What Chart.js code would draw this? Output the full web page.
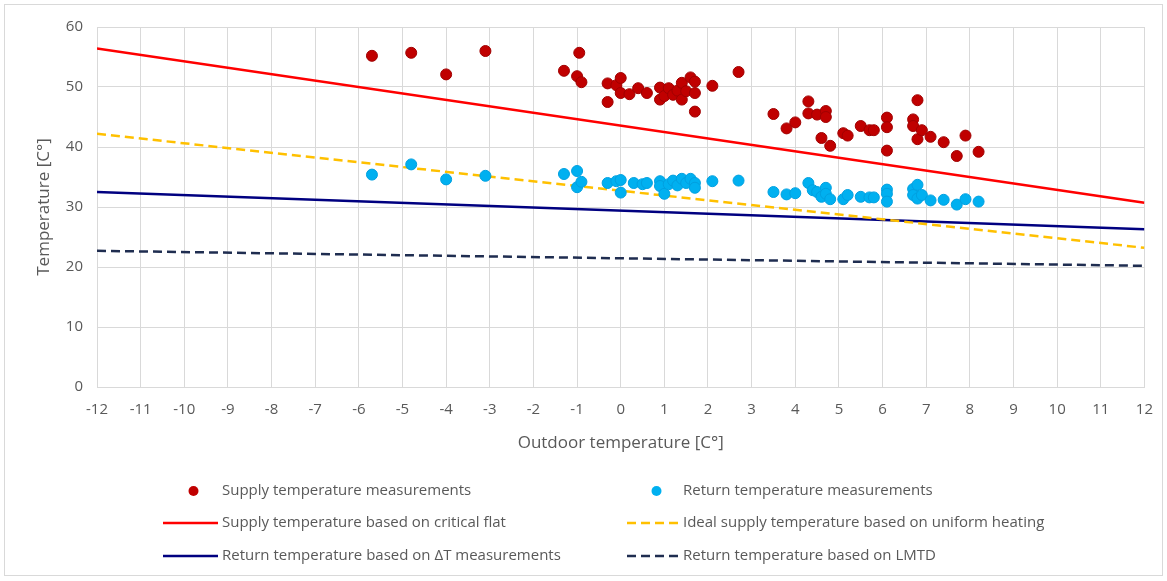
<!DOCTYPE html>
<html>
<head>
<meta charset="utf-8">
<script src="https://cdn.jsdelivr.net/npm/chart.js@4/dist/chart.umd.min.js"></script>
<style>
  html, body { margin: 0; padding: 0; background: #fff; }
  #wrap { position: relative; width: 1167px; height: 581px; }
</style>
</head>
<body>
<div id="wrap"><canvas id="chart" width="1167" height="581"></canvas></div>
<script>
// outdoor temperature / measured temperature pairs
var supplyX = [-5.7, -4.8, -4.0, -3.1, -1.3, -1.0, -0.9, -0.95, -0.3, -0.3, -0.1, 0.0, 0.0, 0.2, 0.4, 0.6, 0.9, 0.9, 1.0, 1.1, 1.2, 1.3, 1.4, 1.4, 1.5, 1.6, 1.7, 1.7, 1.7, 2.1, 2.7,
               3.5, 3.8, 4.0, 4.3, 4.3, 4.5, 4.6, 4.7, 4.7, 4.8, 5.1, 5.2, 5.5, 5.7, 5.8, 6.1, 6.1, 6.1, 6.7, 6.7, 6.8, 6.8, 6.9, 7.1, 7.4, 7.7, 7.9, 8.2];
var supplyY = [55.2, 55.7, 52.1, 56.0, 52.7, 51.8, 50.8, 55.7, 50.6, 47.5, 50.3, 51.5, 49.0, 48.8, 49.8, 49.0, 49.9, 47.9, 48.5, 49.8, 48.7, 49.4, 50.7, 47.9, 49.3, 51.6, 50.9, 49.0, 45.9, 50.2, 52.5,
               45.5, 43.1, 44.1, 47.6, 45.6, 45.4, 41.5, 46.0, 45.0, 40.2, 42.3, 41.9, 43.5, 42.8, 42.8, 44.9, 43.3, 39.4, 44.6, 43.5, 47.8, 41.3, 42.8, 41.7, 40.8, 38.5, 41.9, 39.2];

var returnX = [-5.7, -4.8, -4.0, -3.1, -1.3, -1.0, -1.0, -0.9, -0.3, -0.1, 0.0, 0.0, 0.3, 0.5, 0.6, 0.9, 0.9, 1.0, 1.1, 1.2, 1.3, 1.4, 1.5, 1.6, 1.7, 1.7, 2.1, 2.7,
               3.5, 3.8, 4.0, 4.3, 4.4, 4.5, 4.6, 4.7, 4.7, 4.8, 5.1, 5.2, 5.5, 5.7, 5.8, 6.1, 6.1, 6.1, 6.7, 6.7, 6.8, 6.8, 6.9, 7.1, 7.4, 7.7, 7.9, 8.2];
var returnY = [35.4, 37.1, 34.6, 35.2, 35.5, 36.0, 33.3, 34.2, 34.0, 34.3, 34.5, 32.4, 34.0, 33.8, 34.0, 34.3, 33.5, 32.2, 33.8, 34.4, 33.6, 34.7, 34.0, 34.7, 34.0, 33.2, 34.3, 34.4,
               32.5, 32.1, 32.3, 34.0, 32.8, 32.5, 31.7, 33.2, 32.2, 31.3, 31.3, 32.0, 31.7, 31.6, 31.6, 32.9, 32.2, 30.9, 33.0, 32.0, 33.7, 31.4, 32.0, 31.1, 31.2, 30.4, 31.3, 30.9];

// model lines, evaluated at the ends of the axis
var lineX = [-12, 12];
var criticalFlat = [56.4, 30.7];
var uniformHeating = [42.2, 23.2];
var deltaTReturn = [32.5, 26.3];
var lmtdReturn = [22.7, 20.2];

var xTicks = [-12, -11, -10, -9, -8, -7, -6, -5, -4, -3, -2, -1, 0, 1, 2, 3, 4, 5, 6, 7, 8, 9, 10, 11, 12];
var yTicks = [0, 10, 20, 30, 40, 50, 60];

var FONT = "'Liberation Sans Narrow', 'Open Sans', sans-serif";
var TEXT = '#595959';

function pairs(xs, ys) {
    return xs.map(function(x, i) { return { x: x, y: ys[i] }; });
}

var datasets = [
    { label: 'Supply temperature measurements', data: pairs(supplyX, supplyY), showLine: false,
      pointRadius: 5.5, backgroundColor: '#c00000', borderColor: '#a00000', borderWidth: 1, order: 1, kind: 'dot' },
    { label: 'Return temperature measurements', data: pairs(returnX, returnY), showLine: false,
      pointRadius: 5.5, backgroundColor: '#00b0f0', borderColor: '#00a0e0', borderWidth: 1, order: 2, kind: 'dot' },
    { label: 'Supply temperature based on critical flat', data: pairs(lineX, criticalFlat), showLine: true,
      pointRadius: 0, borderColor: '#ff0000', borderWidth: 2.5, order: 5, kind: 'line' },
    { label: 'Ideal supply temperature based on uniform heating', data: pairs(lineX, uniformHeating), showLine: true,
      pointRadius: 0, borderColor: '#ffc000', borderWidth: 2.5, borderDash: [9, 5], order: 6, kind: 'line' },
    { label: 'Return temperature based on \u0394T measurements', data: pairs(lineX, deltaTReturn), showLine: true,
      pointRadius: 0, borderColor: '#000080', borderWidth: 2.5, order: 7, kind: 'line' },
    { label: 'Return temperature based on LMTD', data: pairs(lineX, lmtdReturn), showLine: true,
      pointRadius: 0, borderColor: '#1f2d50', borderWidth: 2.5, borderDash: [9, 5], order: 8, kind: 'line' }
];

// legend drawn by hand: two columns under the plot, like the original
var legendCols = [
    { lineX0: 163, lineX1: 218, textX: 222 },
    { lineX0: 627, lineX1: 680, textX: 683 }
];
var legendRows = [491, 523, 556];

var customLegend = {
    id: 'customLegend',
    afterDraw: function(chart) {
        var ctx = chart.ctx;
        ctx.save();
        chart.data.datasets.forEach(function(ds, i) {
            var col = legendCols[i % 2];
            var y = legendRows[Math.floor(i / 2)];
            if (ds.kind === 'dot') {
                ctx.beginPath();
                ctx.arc((col.lineX0 + col.lineX1) / 2 + 3, y, 5, 0, Math.PI * 2);
                ctx.fillStyle = ds.backgroundColor;
                ctx.fill();
            } else {
                ctx.beginPath();
                ctx.setLineDash(ds.borderDash || []);
                ctx.strokeStyle = ds.borderColor;
                ctx.lineWidth = 2.5;
                ctx.moveTo(col.lineX0, y);
                ctx.lineTo(col.lineX1, y);
                ctx.stroke();
                ctx.setLineDash([]);
            }
            ctx.fillStyle = TEXT;
            ctx.font = '15px ' + FONT;
            ctx.textBaseline = 'middle';
            ctx.textAlign = 'left';
            ctx.fillText(ds.label, col.textX, y);
        });
        // outer frame
        ctx.strokeStyle = '#d9d9d9';
        ctx.lineWidth = 1;
        ctx.strokeRect(4.5, 4.5, 1158, 571);
        ctx.restore();
    }
};

new Chart(document.getElementById('chart').getContext('2d'), {
    type: 'scatter',
    data: { datasets: datasets },
    plugins: [customLegend],
    options: {
        responsive: false,
        animation: false,
        layout: { padding: { top: 27, left: 30, right: 15, bottom: 124 } },
        plugins: {
            legend: { display: false },
            tooltip: { enabled: false }
        },
        scales: {
            x: {
                type: 'linear',
                min: -12,
                max: 12,
                afterBuildTicks: function(scale) {
                    scale.ticks = xTicks.map(function(v) { return { value: v }; });
                },
                afterFit: function(scale) { scale.height = 70; },
                grid: { color: '#d9d9d9', lineWidth: 1, drawTicks: false },
                border: { color: '#d9d9d9' },
                ticks: { color: TEXT, font: { family: FONT, size: 15 }, padding: 14, maxRotation: 0, autoSkip: false },
                title: { display: true, text: 'Outdoor temperature [C\u00b0]', color: TEXT,
                         font: { family: FONT, size: 17 }, padding: { top: 4 } }
            },
            y: {
                type: 'linear',
                min: 0,
                max: 60,
                afterBuildTicks: function(scale) {
                    scale.ticks = yTicks.map(function(v) { return { value: v }; });
                },
                afterFit: function(scale) { scale.width = 67; },
                grid: { color: '#d9d9d9', lineWidth: 1, drawTicks: false },
                border: { color: '#d9d9d9' },
                ticks: { color: TEXT, font: { family: FONT, size: 15 }, padding: 14 },
                title: { display: true, text: 'Temperature [C\u00b0]', color: TEXT,
                         font: { family: FONT, size: 17 }, padding: { bottom: 4 } }
            }
        }
    }
});
</script>
</body>
</html>
